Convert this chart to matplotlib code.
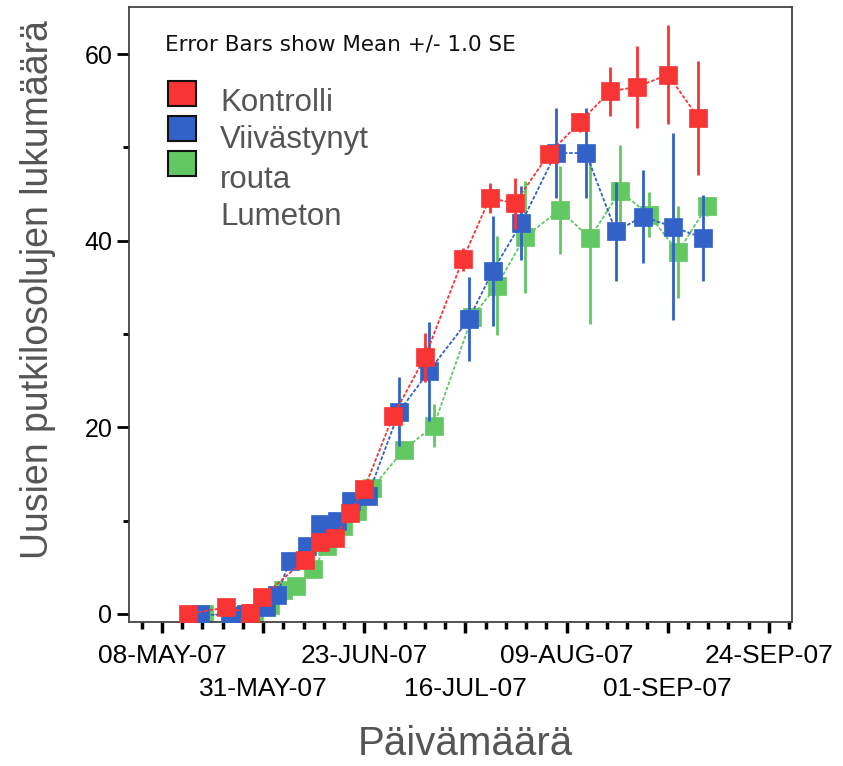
import numpy as np
import matplotlib
matplotlib.use("Agg")
import matplotlib.pyplot as plt
from matplotlib.patches import Rectangle
from matplotlib.ticker import FixedLocator
from matplotlib.transforms import blended_transform_factory, offset_copy

# ---- data (x = days since 08-MAY-2007) ----
red_days = [5.95, 14.66, 20.15, 22.9, 32.75, 36.2, 39.6, 43.0, 46.3, 52.9, 60.2,
            68.9, 75.1, 80.8, 88.6, 95.7, 102.6, 108.8, 115.9, 122.8]
red_mean = [0.0, 0.7, 0.1, 1.8, 5.8, 7.7, 8.1, 10.8, 13.4, 21.2, 27.5,
            38.0, 44.6, 44.0, 49.3, 52.7, 56.0, 56.5, 57.8, 53.2]
red_se = [0.2, 0.3, 0.2, 0.4, 0.6, 0.6, 0.6, 0.6, 0.5, 0.8, 2.6,
          1.2, 1.6, 2.7, 0.8, 1.0, 2.6, 4.4, 5.3, 6.1]

blue_days = [8.7, 15.6, 19.2, 23.8, 26.3, 29.3, 33.2, 36.2, 40.1, 43.3, 47.1,
             54.3, 61.1, 70.3, 75.8, 82.3, 90.2, 97.1, 103.96, 110.1, 117.0, 123.9]
blue_mean = [0.0, -0.2, 0.0, 0.8, 2.0, 5.7, 7.3, 9.6, 10.0, 12.1, 12.6,
             21.7, 26.0, 31.6, 36.8, 41.9, 49.4, 49.4, 41.0, 42.6, 41.5, 40.3]
blue_se = [0.2, 0.2, 0.2, 0.5, 0.6, 0.9, 0.8, 1.0, 0.5, 0.5, 0.6,
           3.7, 5.3, 4.5, 5.9, 4.0, 4.8, 4.8, 5.3, 5.0, 10.0, 4.6]

green_days = [9.6, 16.9, 21.1, 24.7, 27.7, 30.7, 34.6, 37.8, 41.4, 44.7, 48.1,
              55.4, 62.3, 71.0, 76.7, 83.1, 91.1, 98.0, 104.9, 111.5, 118.2, 124.8]
green_mean = [0.0, -0.1, 0.1, 1.0, 2.6, 3.0, 4.8, 7.3, 9.4, 11.0, 13.5,
              17.6, 20.2, 31.8, 35.2, 40.4, 43.3, 40.3, 45.3, 42.8, 38.8, 43.7]
green_se = [0.2, 0.2, 0.2, 0.4, 0.5, 0.5, 0.6, 0.5, 0.5, 0.5, 0.6,
            0.9, 2.3, 0.8, 5.3, 6.0, 4.7, 9.2, 5.0, 2.4, 4.9, 1.0]

tick_labels = ["08-MAY-07", "31-MAY-07", "23-JUN-07", "16-JUL-07",
               "09-AUG-07", "01-SEP-07", "24-SEP-07"]
legend_labels = ["Kontrolli", "Viivästynyt", "routa", "Lumeton"]

RED = "#f83434"
BLUE = "#3262c8"
GREEN = "#62c862"
GRAY = "#555555"

W, H = 843, 766
fig = plt.figure(figsize=(W / 100, H / 100), dpi=100)
ax = fig.add_axes([129 / W, 1 - 622 / H, (792 - 129) / W, (622 - 7.5) / H])

def draw(days, mean, se, color, z):
    ax.errorbar(days, mean, yerr=se, fmt="none", ecolor=color, elinewidth=2.0,
                capsize=0, zorder=z)
    ax.plot(days, mean, color=color, lw=1.3, ls=(0, (2, 1)), zorder=z)
    ax.plot(days, mean, ls="none", marker="s", ms=12.5, mfc=color, mec=color,
            mew=0.5, zorder=z + 0.5)

draw(green_days, green_mean, green_se, GREEN, 2)
draw(blue_days, blue_mean, blue_se, BLUE, 3)
draw(red_days, red_mean, red_se, RED, 4)

ax.set_xlim(-7.56, 144.3)
ax.set_ylim(-0.86, 65)

span = 139.0
major = [i * span / 6 for i in range(7)]
minor = [-span / 30] + [i * span / 30 for i in range(31)] + [span + span / 30]
ax.xaxis.set_major_locator(FixedLocator(major))
ax.xaxis.set_minor_locator(FixedLocator([m for m in minor if m not in major]))
ax.set_xticklabels([lab if i % 2 == 0 else "" for i, lab in enumerate(tick_labels)],
                   fontsize=19, family="Liberation Sans")
# second row of date labels
trans = blended_transform_factory(ax.transData, ax.transAxes)
trans2 = offset_copy(trans, fig=fig, x=0, y=-55, units="dots")
for i, lab in enumerate(tick_labels):
    if i % 2 == 1:
        ax.text(major[i], 0, lab, transform=trans2, fontsize=19,
                family="Liberation Sans", ha="center", va="top")

ax.set_yticks([0, 20, 40, 60])
ax.set_yticks([10, 30, 50], minor=True)
ax.set_yticklabels(["0", "20", "40", "60"], fontsize=18, family="Liberation Sans")
ax.tick_params(axis="x", which="major", direction="out", length=8, width=2.5, pad=8)
ax.tick_params(axis="x", which="minor", direction="out", length=5, width=2.5)
ax.tick_params(axis="y", which="major", direction="out", length=9, width=2.0, pad=3)
ax.tick_params(axis="y", which="minor", direction="out", length=4, width=2.0)
for s in ax.spines.values():
    s.set_color("#444444")
    s.set_linewidth(1.3)

fig.text(465 / W, 1 - 744 / H, "Päivämäärä", fontsize=29, color=GRAY,
         family="Liberation Sans", ha="center", va="center")
fig.text(38 / W, 1 - 290 / H, "Uusien putkilosolujen lukumäärä", rotation=90,
         fontsize=27, color=GRAY, family="Liberation Sans", ha="center", va="center")

# annotation + legend
fig.text(165 / W, 1 - 45 / H, "Error Bars show Mean +/- 1.0 SE", fontsize=15.5,
         family="DejaVu Sans", color="#111111", va="center", ha="left")
sq = [(81, RED), (116, BLUE), (151, GREEN)]
for top, col in sq:
    fig.add_artist(Rectangle((168 / W, 1 - (top + 25) / H), 28 / W, 25 / H,
                             transform=fig.transFigure, facecolor=col,
                             edgecolor="#111111", lw=1.5))
for yc, lab in zip([103, 140, 180, 217], legend_labels):
    fig.text(220 / W, 1 - yc / H, lab, fontsize=22.5, family="Liberation Sans",
             color=GRAY, va="center", ha="left")

fig.savefig("out.png", dpi=100)
